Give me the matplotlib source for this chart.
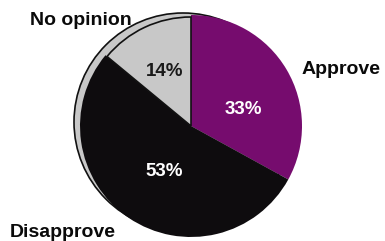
import matplotlib
matplotlib.use("Agg")
import matplotlib.pyplot as plt
from matplotlib.patches import Circle

categories = ["Approve", "Disapprove", "No opinion"]
values = [33, 53, 14]
pct_labels = ["33%", "53%", "14%"]
colors = ["#760c6e", "#0e0c0e", "#c8c8c8"]

W, H = 385, 241
fig = plt.figure(figsize=(W / 100, H / 100), dpi=100)
ax = fig.add_axes([0, 0, 1, 1])

cx, cy, R = 191, H - 126, 111

# back disk (3D-like edge on the left)
back = Circle((cx - 8, cy + 4), R - 2, facecolor="#c8c8c8",
              edgecolor="#111111", linewidth=1.2, zorder=1)
ax.add_patch(back)

wedges, _ = ax.pie(values, colors=colors, startangle=90, counterclock=False,
                   center=(cx, cy), radius=R, frame=True,
                   wedgeprops=dict(linewidth=0, zorder=2))
# No opinion slice: slightly smaller, outlined
wedges[2].set_radius(R - 2)
wedges[2].set_edgecolor("#111111")
wedges[2].set_linewidth(1.2)
for w in wedges:
    w.set_zorder(2)
wedges[2].set_zorder(3)

ax.set_xlim(0, W)
ax.set_ylim(0, H)
ax.set_aspect("equal")
ax.axis("off")

font = "Liberation Sans"
# percentage labels
ax.text(243, H - 110, pct_labels[0], color="white", fontsize=13.5, ha="center",
        va="center", family=font, fontweight="bold")
ax.text(164, H - 171, pct_labels[1], color="white", fontsize=13.5, ha="center",
        va="center", family=font, fontweight="bold")
ax.text(165, H - 72, pct_labels[2], color="#1a1a1a", fontsize=13.5, ha="center",
        va="center", family=font, fontweight="bold")

# category labels
ax.text(302, H - 74, categories[0], color="#0a0a0a", fontsize=14,
        fontweight="bold", ha="left", va="baseline", family=font)
ax.text(10, H - 237, categories[1], color="#0a0a0a", fontsize=14,
        fontweight="bold", ha="left", va="baseline", family=font)
ax.text(30, H - 25, categories[2], color="#0a0a0a", fontsize=14,
        fontweight="bold", ha="left", va="baseline", family=font)

fig.savefig("out.png", dpi=100)
